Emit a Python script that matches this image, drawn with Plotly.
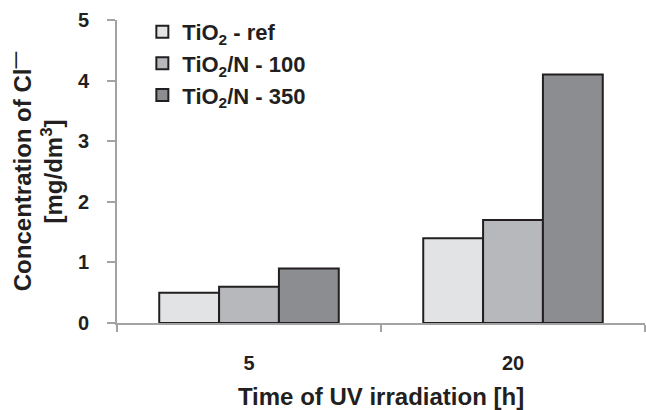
import plotly.graph_objects as go

categories = ["5", "20"]
series_names = ["TiO<sub>2</sub> - ref", "TiO<sub>2</sub>/N - 100", "TiO<sub>2</sub>/N - 350"]
ref_vals = [0.5, 1.4]
n100_vals = [0.6, 1.7]
n350_vals = [0.9, 4.1]
y_ticks = [0, 1, 2, 3, 4, 5]

colors = ["#e2e3e5", "#b7b8bb", "#8c8d90"]
series_vals = [ref_vals, n100_vals, n350_vals]
txt = "#231f20"
axc = "#a3a3a3"

fig = go.Figure()
for i, (name, vals) in enumerate(zip(series_names, series_vals)):
    fig.add_trace(go.Bar(
        x=categories, y=vals, name=name, legendgroup=f"g{i}",
        marker=dict(color=colors[i], line=dict(color=txt, width=2)),
    ))

fig.update_layout(
    width=646, height=410,
    margin=dict(l=117, r=1, t=20, b=87),
    plot_bgcolor="white", paper_bgcolor="white",
    font=dict(family="Liberation Sans, Arial, sans-serif", size=20, color=txt, weight="bold"),
    barmode="group", bargap=0.32, bargroupgap=0,
    showlegend=True,
    legend=dict(x=0.048, y=1.03, xanchor="left", yanchor="top",
                font=dict(size=22, color=txt, weight="bold"),
                traceorder="grouped", tracegroupgap=0,
                bgcolor="rgba(0,0,0,0)"),
    xaxis=dict(
        type="category", showline=True, linecolor=axc, linewidth=2,
        ticks="outside", tickson="boundaries", ticklen=7, tickcolor=axc, tickwidth=2,
        ticklabelstandoff=21,
        tickfont=dict(size=20),
        title=dict(text="Time of UV irradiation [h]", font=dict(size=24, color=txt, weight="bold"), standoff=18),
        showgrid=False, zeroline=False,
    ),
    yaxis=dict(
        range=[0, 5], tickvals=y_ticks, showline=True, linecolor=axc, linewidth=2,
        ticks="outside", ticklen=8, tickcolor=axc, tickwidth=2,
        ticklabelstandoff=14,
        tickfont=dict(size=20),
        title=dict(text="Concentration of Cl<sup>—</sup><br>[mg/dm<sup>3</sup>]",
                   font=dict(size=24, color=txt, weight="bold"), standoff=8),
        showgrid=False, zeroline=False,
    ),
)

fig.write_html("out.html")
